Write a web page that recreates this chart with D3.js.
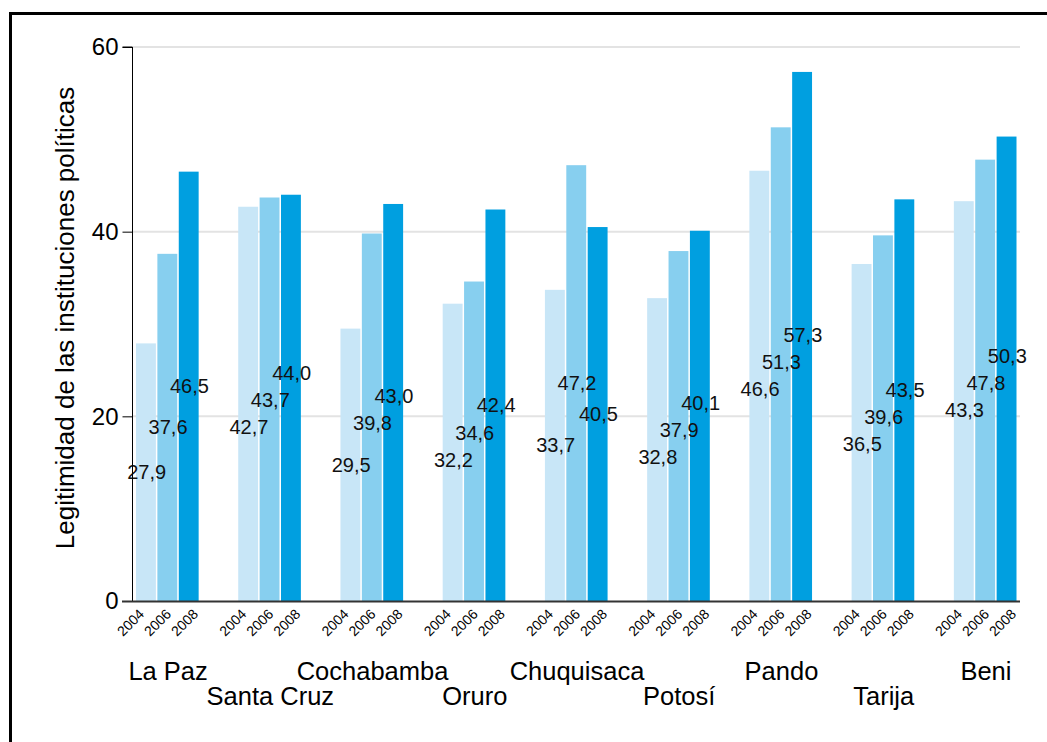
<!DOCTYPE html>
<html>
<head>
<meta charset="utf-8">
<script src="https://cdn.jsdelivr.net/npm/d3@7"></script>
<style>
  html, body { margin: 0; padding: 0; background: #fff; }
  svg { display: block; font-family: "Liberation Sans", Arial, sans-serif; }
</style>
</head>
<body>
<svg id="chart" width="1047" height="742"></svg>
<script>
// Legitimidad de las instituciones políticas por departamento, 2004–2008
const regions = ["La Paz", "Santa Cruz", "Cochabamba", "Oruro", "Chuquisaca", "Potosí", "Pando", "Tarija", "Beni"];
const years = ["2004", "2006", "2008"];
const values2004 = [27.9, 42.7, 29.5, 32.2, 33.7, 32.8, 46.6, 36.5, 43.3];
const values2006 = [37.6, 43.7, 39.8, 34.6, 47.2, 37.9, 51.3, 39.6, 47.8];
const values2008 = [46.5, 44.0, 43.0, 42.4, 40.5, 40.1, 57.3, 43.5, 50.3];
const yTicks = [0, 20, 40, 60];
const yTitle = "Legitimidad de las instituciones políticas";

const series = [values2004, values2006, values2008];
const colors = ["#c8e6f7", "#87cfef", "#009fe0"];

const rows = [];
regions.forEach((r, i) => {
  years.forEach((y, j) => rows.push({ region: r, year: y, yi: j, value: series[j][i] }));
});

const svg = d3.select("#chart");

// frame
svg.append("rect")
  .attr("x", 10.5).attr("y", 13.5)
  .attr("width", 1100).attr("height", 800)
  .attr("fill", "none").attr("stroke", "#000").attr("stroke-width", 3);

const x = d3.scaleBand().domain(regions).range([136, 1018]).paddingInner(0.3725).paddingOuter(0);
const xi = d3.scaleBand().domain(years).range([0, x.bandwidth()]);
const y = d3.scaleLinear().domain([0, 60]).range([601, 47]);

// gridlines
svg.append("g").selectAll("line")
  .data(yTicks.filter(d => d > 0))
  .join("line")
  .attr("x1", 133).attr("x2", 1020)
  .attr("y1", d => y(d)).attr("y2", d => y(d))
  .attr("stroke", "#e3e3e3").attr("stroke-width", 2);

// bars
svg.append("g").selectAll("rect")
  .data(rows)
  .join("rect")
  .attr("x", d => x(d.region) + xi(d.year))
  .attr("y", d => y(d.value))
  .attr("width", xi.bandwidth() - 1.5)
  .attr("height", d => y(0) - y(d.value))
  .attr("fill", d => colors[d.yi]);

// value labels sit at half the bar height; neighbouring labels inside a
// group are pushed apart vertically (keeping their stacking order)
const minGap = 27;
rows.forEach(d => { d.ly = y(d.value / 2); });
d3.groups(rows, d => d.region).forEach(([, g]) => {
  // +1: the right-hand label stays above its left neighbour
  const order = g.slice(0, -1).map((a, k) => (a.ly - g[k + 1].ly) >= -1 ? 1 : -1);
  for (let it = 0; it < 400; it++) {
    for (let k = 0; k < g.length - 1; k++) {
      const a = g[k], b = g[k + 1], dir = order[k];
      const sep = dir * (a.ly - b.ly);
      if (sep < minGap) {
        const push = (minGap - sep) / 2;
        a.ly += dir * push;
        b.ly -= dir * push;
      }
    }
  }
});

svg.append("g").selectAll("text")
  .data(rows)
  .join("text")
  .attr("x", d => x(d.region) + xi(d.year) + xi.bandwidth() / 2)
  .attr("y", d => d.ly)
  .attr("dy", "0.35em")
  .attr("text-anchor", "middle")
  .attr("font-size", 20)
  .attr("fill", "#111")
  .text(d => d.value.toFixed(1).replace(".", ","));

// y axis
const yAxis = d3.axisLeft(y).tickValues(yTicks).tickSize(10).tickPadding(4).tickFormat(d3.format("d"));
const gy = svg.append("g").attr("transform", "translate(132.5,0)").call(yAxis);
gy.select(".domain").attr("d", `M-10,${y(60)}H0V${y(0)}`).attr("stroke", "#000");
gy.selectAll(".tick line").attr("stroke", "#000");
gy.selectAll(".tick text").attr("font-size", 24).attr("fill", "#000")
  .attr("font-family", "'Liberation Sans', Arial, sans-serif");

// x baseline
svg.append("line")
  .attr("x1", 122).attr("x2", 1020)
  .attr("y1", y(0) + 0.5).attr("y2", y(0) + 0.5)
  .attr("stroke", "#333").attr("stroke-width", 2);

// year labels, fanned out slightly wider than the bars
const yearStep = 27;
svg.append("g").selectAll("text")
  .data(rows)
  .join("text")
  .attr("transform", d => `translate(${x(d.region) + x.bandwidth() / 2 + 4 + (d.yi - 1) * yearStep},${y(0) + 14}) rotate(-45)`)
  .attr("text-anchor", "end")
  .attr("font-size", 14)
  .attr("fill", "#000")
  .text(d => d.year);

// region labels, alternating rows
svg.append("g").selectAll("text")
  .data(regions)
  .join("text")
  .attr("x", d => x(d) + x.bandwidth() / 2)
  .attr("y", (d, i) => i % 2 === 0 ? 680 : 705)
  .attr("text-anchor", "middle")
  .attr("font-size", 25.5)
  .attr("fill", "#000")
  .text(d => d);

// y title
svg.append("text")
  .attr("transform", "translate(74,318) rotate(-90)")
  .attr("text-anchor", "middle")
  .attr("font-size", 26)
  .attr("fill", "#000")
  .text(yTitle);
</script>
</body>
</html>
